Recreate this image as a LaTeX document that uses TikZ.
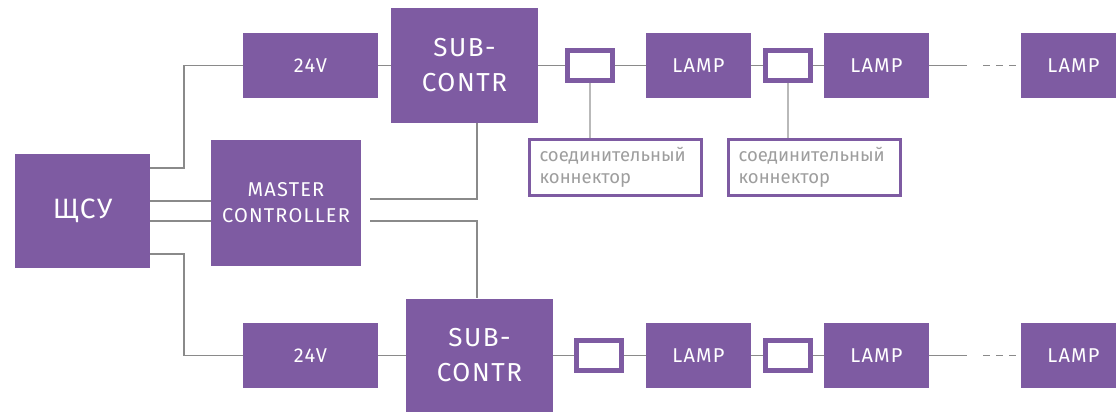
\documentclass[tikz,border=0pt]{standalone}
\usepackage{fontspec}
\setmainfont[LetterSpace=6]{Fira Sans}
\newfontfamily\lblfont{Fira Sans}
\definecolor{pur}{RGB}{126,91,162}
\definecolor{ln}{RGB}{138,138,138}
\definecolor{lnl}{RGB}{185,185,185}
\definecolor{lbl}{RGB}{158,158,158}
\begin{document}
\begin{tikzpicture}[x=1pt,y=-1pt,
  blk/.style={fill=pur,draw=none,text=white,inner sep=0pt,align=center},
  big/.style={blk,minimum width=135pt,minimum height=65pt,font=\fontsize{20}{24}\selectfont},
  sub/.style={blk,minimum width=147pt,minimum height=114pt,font=\fontsize{26}{35}\selectfont},
  lamp/.style={blk,minimum width=105pt,minimum height=65pt,font=\fontsize{20}{22}\selectfont},
  conn/.style={draw=pur,fill=white,line width=5pt,minimum width=45pt,minimum height=30pt,inner sep=0pt},
  lblbox/.style={draw=pur,fill=white,line width=3pt,text width=152pt,inner xsep=10pt,inner ysep=0pt,minimum height=56pt,align=left,text=lbl,font=\lblfont\fontsize{18.5}{22}\selectfont},
  wire/.style={draw=ln,line width=1.5pt},
  wirel/.style={draw=lnl,line width=1.5pt}]
\useasboundingbox (0,0) rectangle (1116,412);
\clip (0,0) rectangle (1116,412);
% main nodes
\node[blk,minimum width=135pt,minimum height=114pt,font=\fontsize{28}{30}\selectfont] (shsu) at (82.5,211) {ЩСУ};
\node[big] (vt) at (310.5,65.5) {24V};
\node[big] (vb) at (310.5,355.5) {24V};
\node[blk,minimum width=150pt,minimum height=126pt,font=\fontsize{20}{26}\selectfont] (mc) at (286,203) {MASTER\\CONTROLLER};
\node[sub] (st) at (464.5,65.5) {SUB-\\CONTR};
\node[sub] (sb) at (479.5,355.5) {SUB-\\CONTR};
% top row
\node[conn] (c1t) at (590,65.5) {};
\node[lamp] (l1t) at (698.5,65.5) {LAMP};
\node[conn] (c2t) at (788,65.5) {};
\node[lamp] (l2t) at (876.5,65.5) {LAMP};
\node[lamp] (l3t) at (1073.5,65.5) {LAMP};
% bottom row
\node[conn] (c1b) at (599,355.5) {};
\node[lamp] (l1b) at (698.5,355.5) {LAMP};
\node[conn] (c2b) at (788,355.5) {};
\node[lamp] (l2b) at (876.5,355.5) {LAMP};
\node[lamp] (l3b) at (1073.5,355.5) {LAMP};
% labels
\node[lblbox] (lb1) at (615.5,167.5) {соединительный\\коннектор};
\node[lblbox] (lb2) at (814.5,167.5) {соединительный\\коннектор};
% coordinates
\coordinate (m1) at (370,199);
\coordinate (m2) at (370,221);
\coordinate (dt1) at (967,65.5);
\coordinate (dt2) at (983,65.5);
\coordinate (dt3) at (1016,65.5);
\coordinate (db1) at (967,355.5);
\coordinate (db2) at (983,355.5);
\coordinate (db3) at (1016,355.5);
% wires from ЩСУ
\draw[wire] (shsu.east |- 0,168) -- (184,168) |- (vt.west);
\draw[wire] (shsu.east |- 0,254) -- (184,254) |- (vb.west);
\draw[wire] (shsu.east |- 0,201) -- (mc.west |- 0,201);
\draw[wire] (shsu.east |- 0,221) -- (mc.west |- 0,221);
% master to subs
\draw[wire] (m1) -| (st.south -| 477,0);
\draw[wire] (m2) -| (sb.north -| 477,0);
% 24V to sub
\draw[wire] (vt.east) -- (st.west);
\draw[wire] (vb.east) -- (sb.west);
% chains
\draw[wire] (st.east) -- (c1t.west);
\draw[wire] (c1t.east) -- (l1t.west);
\draw[wire] (l1t.east) -- (c2t.west);
\draw[wire] (c2t.east) -- (l2t.west);
\draw[wire] (l2t.east) -- (dt1);
\draw[wire,dash pattern=on 7pt off 6pt] (dt2) -- (dt3);
\draw[wire] (sb.east) -- (c1b.west);
\draw[wire] (c1b.east) -- (l1b.west);
\draw[wire] (l1b.east) -- (c2b.west);
\draw[wire] (c2b.east) -- (l2b.west);
\draw[wire] (l2b.east) -- (db1);
\draw[wire,dash pattern=on 7pt off 6pt] (db2) -- (db3);
% label leaders
\draw[wirel] (c1t.south) -- (c1t.south |- lb1.north);
\draw[wirel] (c2t.south) -- (c2t.south |- lb2.north);
\end{tikzpicture}
\end{document}
